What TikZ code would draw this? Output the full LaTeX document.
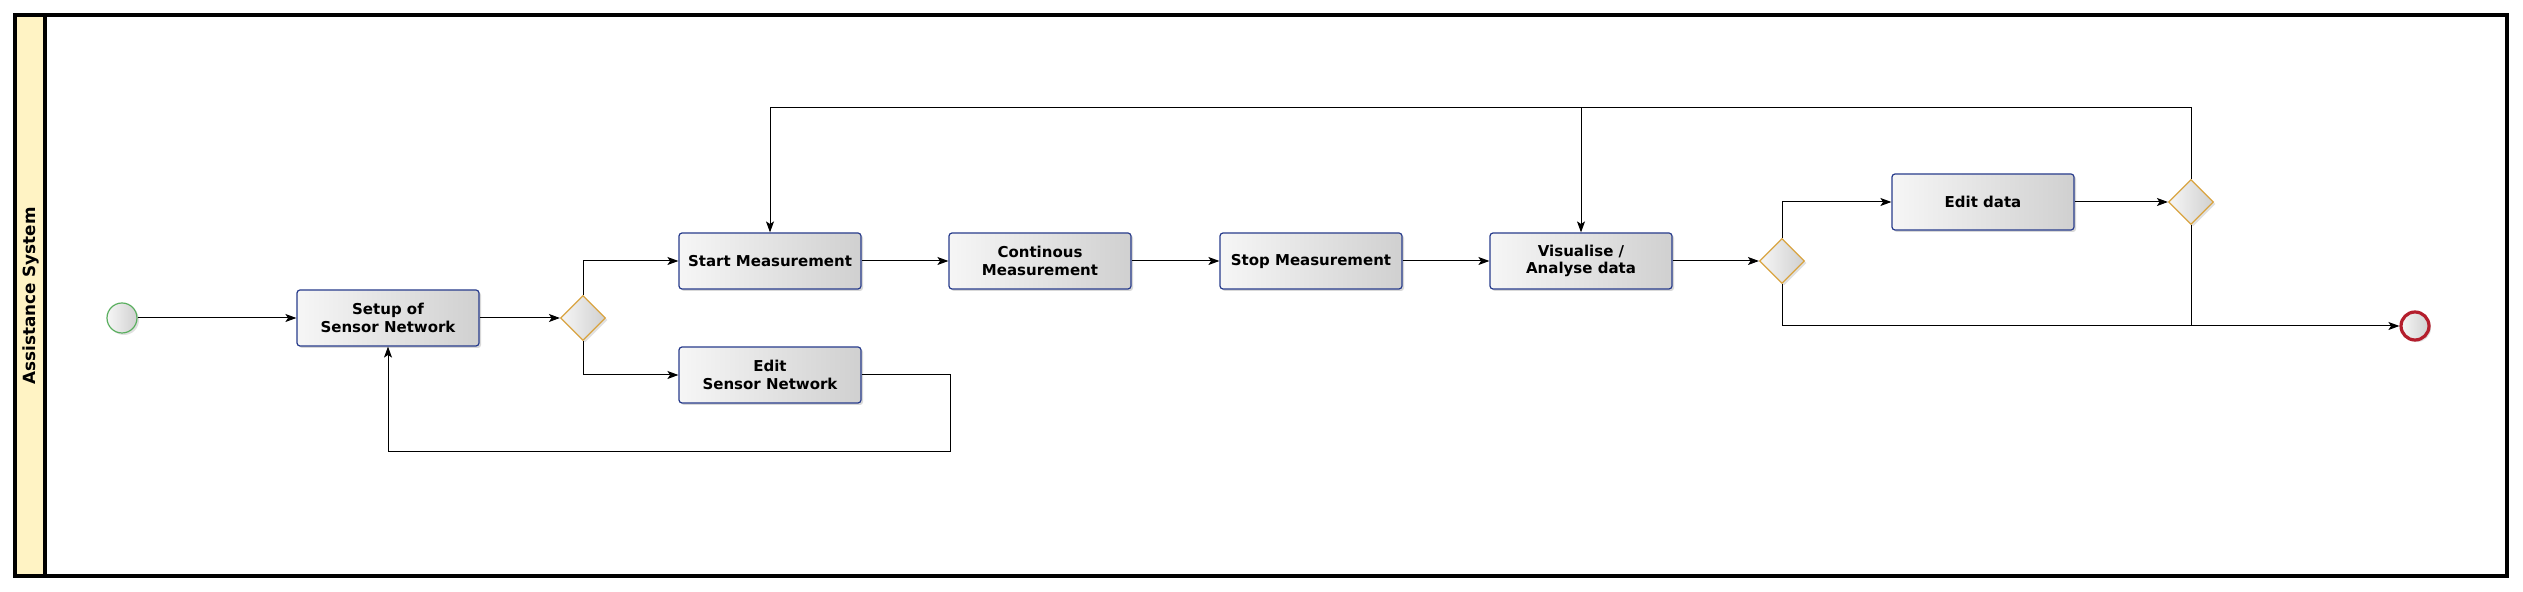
\documentclass[tikz,border=0pt]{standalone}
\usepackage{fontspec}
\setmainfont{DejaVu Sans}
\usetikzlibrary{shapes.geometric,arrows.meta,shadows}
\definecolor{taskborder}{RGB}{40,60,140}
\definecolor{gwborder}{RGB}{217,164,65}
\definecolor{startborder}{RGB}{90,175,95}
\definecolor{endborder}{RGB}{180,30,45}
\definecolor{lanefill}{RGB}{255,243,196}
\definecolor{shadelight}{RGB}{246,246,246}
\definecolor{shadedark}{RGB}{208,208,208}
\tikzset{
  lbl/.style={font=\fontsize{7.5}{8.7}\selectfont\bfseries, text=black},
  task/.style={lbl, rectangle, rounded corners=1.5pt, draw=taskborder, line width=0.6pt,
    left color=shadelight, right color=shadedark, minimum width=91pt, minimum height=28pt,
    inner sep=0pt, align=center,
    drop shadow={shadow xshift=1pt, shadow yshift=-1pt, opacity=0.25, fill=black!60}},
  gw/.style={diamond, aspect=1, draw=gwborder, line width=0.6pt, left color=shadelight,
    right color=shadedark, minimum width=22.5pt, minimum height=22.5pt, inner sep=0pt,
    drop shadow={shadow xshift=1pt, shadow yshift=-1pt, opacity=0.2, fill=black!60}},
  startev/.style={circle, draw=startborder, line width=0.6pt, left color=shadelight,
    right color=shadedark, minimum size=15pt, inner sep=0pt,
    drop shadow={shadow xshift=1pt, shadow yshift=-1pt, opacity=0.2, fill=black!60}},
  endev/.style={circle, draw=endborder, line width=1.6pt, left color=shadelight,
    right color=shadedark, minimum size=14pt, inner sep=0pt,
    drop shadow={shadow xshift=1pt, shadow yshift=-1pt, opacity=0.2, fill=black!60}},
  flow/.style={draw=black, line width=0.5pt, -{Stealth[length=5.5pt,width=4pt,inset=1.3pt]}},
  plain/.style={draw=black, line width=0.5pt},
}
\begin{document}
\begin{tikzpicture}[x=0.5pt,y=-0.5pt]
\useasboundingbox (0,0) rectangle (2523,592);
\fill[white] (0,0) rectangle (2523,592);
% lane
\fill[lanefill] (15,15) rectangle (45,576);
\draw[line width=1.6pt] (15,15) rectangle (2507,576);
\draw[line width=1.6pt] (45,15) -- (45,576);
\node[lbl, font=\fontsize{8.4}{10}\selectfont\bfseries, rotate=90] (lanelabel) at (31,296) {Assistance System};
% nodes
\node[startev] (s) at (122,318) {};
\node[task] (setup) at (388,318) {Setup of\\Sensor Network};
\node[gw] (g1) at (583,318) {};
\node[task] (start) at (770,261) {Start Measurement};
\node[task] (editsn) at (770,375) {Edit\\Sensor Network};
\node[task] (cont) at (1040,261) {Continous\\Measurement};
\node[task] (stop) at (1311,261) {Stop Measurement};
\node[task] (vis) at (1581,261) {Visualise /\\Analyse data};
\node[gw] (g2) at (1782,261) {};
\node[task] (editd) at (1983,202) {Edit data};
\node[gw] (g3) at (2191,202) {};
\node[endev] (e) at (2415,326) {};
% helper coordinates
\coordinate (lp1) at (950,452);
\coordinate (tl) at (770,108);
\coordinate (tv) at (1581,108);
\coordinate (j3) at (2191,326);
% connectors
\draw[flow] (s) -- (setup);
\draw[flow] (setup) -- (g1);
\draw[flow] (g1.north) |- (start.west);
\draw[flow] (g1.south) |- (editsn.west);
\draw[flow] (editsn.east) -| (lp1) -| (setup.south);
\draw[flow] (start) -- (cont);
\draw[flow] (cont) -- (stop);
\draw[flow] (stop) -- (vis);
\draw[flow] (vis) -- (g2);
\draw[flow] (g2.north) |- (editd.west);
\draw[flow] (editd) -- (g3);
\draw[flow] (g3.north) |- (tl) -- (start.north);
\draw[flow] (tv) -- (vis.north);
\draw[flow] (g2.south) |- (e.west);
\draw[plain] (g3.south) -- (j3);
\end{tikzpicture}
\end{document}
